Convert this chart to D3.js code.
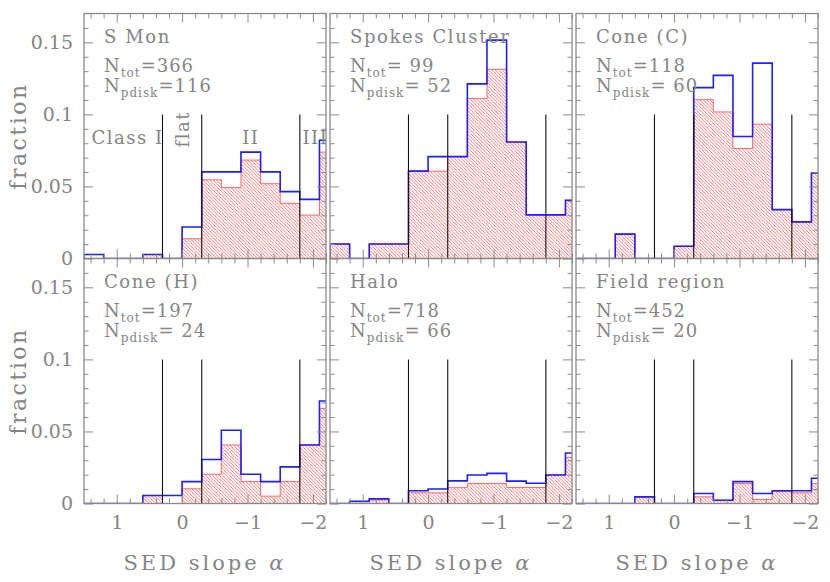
<!DOCTYPE html>
<html>
<head>
<meta charset="utf-8">
<script src="https://cdn.jsdelivr.net/npm/d3@7"></script>
<style>
  body { margin: 0; background: #fff; }
  svg { display: block; }
  text { font-family: "DejaVu Serif", serif; fill: #858585; }
</style>
</head>
<body>
<div id="chart"></div>
<script>
// data
var regions = ["S Mon", "Spokes Cluster", "Cone (C)", "Cone (H)", "Halo", "Field region"];
var nTot = ["366", " 99", "118", "197", "718", "452"];
var nPdisk = ["116", " 52", " 60", " 24", " 66", " 20"];
var binEdges = [1.5, 1.2, 0.9, 0.6, 0.3, 0, -0.3, -0.6, -0.9, -1.2, -1.5, -1.8, -2.1, -2.4];
var classBounds = [0.3, -0.3, -1.8];

// all sources (blue outline)
var totalFrac = [
  [0.0028, 0, 0, 0.0028, 0, 0.0219, 0.0601, 0.0601, 0.0738, 0.0601, 0.0464, 0.0410, 0.0820],
  [0.0101, 0, 0.0101, 0.0101, 0.0606, 0.0707, 0.0707, 0.1212, 0.1515, 0.0808, 0.0303, 0.0303, 0.0404],
  [0, 0, 0.0169, 0, 0, 0.0085, 0.1186, 0.1271, 0.0847, 0.1356, 0.0339, 0.0254, 0.0593],
  [0, 0, 0, 0.0055, 0.0055, 0.0152, 0.0305, 0.0508, 0.0203, 0.0152, 0.0254, 0.0406, 0.0711],
  [0, 0.0016, 0.0032, 0, 0.0088, 0.0101, 0.0157, 0.0198, 0.0209, 0.0155, 0.0141, 0.0198, 0.0350],
  [0, 0, 0, 0.0046, 0, 0, 0.0069, 0.0023, 0.0152, 0.0069, 0.0088, 0.0088, 0.0175]
];
// hatched red histogram
var hatchFrac = [
  [0, 0, 0, 0.0028, 0, 0.0137, 0.0546, 0.0492, 0.0683, 0.0519, 0.0383, 0.0301, 0.0738],
  [0.0101, 0, 0.0101, 0.0101, 0.0606, 0.0606, 0.0707, 0.1111, 0.1313, 0.0808, 0.0303, 0.0303, 0.0404],
  [0, 0, 0.0169, 0, 0, 0.0085, 0.1102, 0.1017, 0.0763, 0.0932, 0.0339, 0.0254, 0.0593],
  [0, 0, 0, 0.0055, 0, 0.0102, 0.0203, 0.0406, 0.0152, 0.0051, 0.0152, 0.0406, 0.0660],
  [0, 0.0012, 0.0025, 0, 0.0074, 0.0074, 0.0110, 0.0139, 0.0139, 0.0111, 0.0111, 0.0198, 0.0320],
  [0, 0, 0, 0.0046, 0, 0, 0.0046, 0.0023, 0.0138, 0.0028, 0.0083, 0.0074, 0.0138]
];
var xMajor = [1, 0, -1, -2];
var yMajor = [0, 0.05, 0.1, 0.15];

var width = 830, height = 582,
    pw = 242, ph = 245,
    colX = [84, 330, 576],
    rowY = [13.5, 258.5];

var x = d3.scaleLinear().domain([1.5, -2.2]).range([0, pw]);
var y = d3.scaleLinear().domain([0, 0.17]).range([ph, 0]);

var xMinor = d3.range(14, -23, -2).map(function(d){ return d / 10; }).filter(function(d){ return xMajor.indexOf(d) < 0; });
var yMinor = d3.range(1, 17).map(function(d){ return d / 100; }).filter(function(d){ return d % 0.05 > 0.001 && d % 0.05 < 0.049; });

var svg = d3.select("#chart").append("svg")
  .attr("width", width)
  .attr("height", height);

var defs = svg.append("defs");
defs.append("pattern")
  .attr("id", "hatch")
  .attr("patternUnits", "userSpaceOnUse")
  .attr("width", 3.4).attr("height", 3.4)
  .append("path")
  .attr("d", "M-1,-1L4.4,4.4M-1,2.4L1,4.4M2.4,-1L4.4,1")
  .attr("stroke", "#ff3b3b")
  .attr("stroke-width", 0.7);

// step outline for a histogram, truncated by the clip
function stepPath(vals) {
  var p = d3.path();
  p.moveTo(x(binEdges[0]), y(0));
  vals.forEach(function(v, i){
    p.lineTo(x(binEdges[i]), y(v));
    p.lineTo(x(binEdges[i + 1]), y(v));
  });
  p.lineTo(x(binEdges[binEdges.length - 1]), y(0));
  return p.toString();
}

regions.forEach(function(name, k){
  var col = k % 3, row = Math.floor(k / 3);
  var g = svg.append("g").attr("transform", "translate(" + colX[col] + "," + rowY[row] + ")");

  defs.append("clipPath").attr("id", "clip" + k)
    .append("rect").attr("width", pw).attr("height", ph);

  var plot = g.append("g").attr("clip-path", "url(#clip" + k + ")");

  // hatched histogram
  plot.append("path")
    .attr("d", stepPath(hatchFrac[k]))
    .attr("fill", "url(#hatch)")
    .attr("stroke", "#ff6a6a")
    .attr("stroke-width", 1);

  // total histogram
  plot.append("path")
    .attr("d", stepPath(totalFrac[k]))
    .attr("fill", "none")
    .attr("stroke", "#1e1eff")
    .attr("stroke-width", 1.6);

  // class boundaries
  plot.selectAll("line.cls").data(classBounds).enter().append("line")
    .attr("class", "cls")
    .attr("x1", function(d){ return x(d); })
    .attr("x2", function(d){ return x(d); })
    .attr("y1", y(0)).attr("y2", y(0.1))
    .attr("stroke", "#111").attr("stroke-width", 1.1);

  if (k === 0) {
    plot.append("text").attr("x", 7.5).attr("y", y(0.1) + 29.5)
      .style("font-size", "18px").style("letter-spacing", "1.5px").text("Class I");
    plot.append("text")
      .attr("transform", "translate(" + (x(0) + 7) + "," + (y(0.1) + 33) + ") rotate(-90)")
      .style("font-size", "18px").style("letter-spacing", "1.5px").text("flat");
    plot.append("text").attr("x", x(-1.05)).attr("y", y(0.1) + 29.5).attr("text-anchor", "middle")
      .style("font-size", "18px").style("letter-spacing", "1.5px").text("II");
    plot.append("text").attr("x", x(-1.84)).attr("y", y(0.1) + 29.5)
      .style("font-size", "18px").style("letter-spacing", "1.5px").text("III");
  }

  // axes: ticks on all four sides, pointing in
  function tidy(a){ a.select(".domain").remove(); a.selectAll("line").attr("stroke", "#8a8a8a"); }

  var showX = row === 1, showY = col === 0;
  g.append("g").attr("transform", "translate(0," + ph + ")")
    .call(d3.axisBottom(x).tickValues(xMinor).tickSize(-5).tickFormat(""))
    .call(tidy);
  g.append("g").attr("transform", "translate(0," + ph + ")")
    .call(d3.axisBottom(x).tickValues(xMajor).tickSize(-9).tickPadding(12)
      .tickFormat(showX ? function(d){ return d < 0 ? "\u2212" + (-d) : d; } : ""))
    .call(tidy);
  g.append("g")
    .call(d3.axisTop(x).tickValues(xMinor).tickSize(-5).tickFormat(""))
    .call(tidy);
  g.append("g")
    .call(d3.axisTop(x).tickValues(xMajor).tickSize(-9).tickFormat(""))
    .call(tidy);
  g.append("g")
    .call(d3.axisLeft(y).tickValues(yMinor).tickSize(-4.5).tickFormat(""))
    .call(tidy);
  g.append("g")
    .call(d3.axisLeft(y).tickValues(yMajor).tickSize(-9).tickPadding(11)
      .tickFormat(showY ? function(d){ return d === 0 ? "0" : String(d); } : ""))
    .call(tidy);
  g.append("g").attr("transform", "translate(" + pw + ",0)")
    .call(d3.axisRight(y).tickValues(yMinor).tickSize(-4.5).tickFormat(""))
    .call(tidy);
  g.append("g").attr("transform", "translate(" + pw + ",0)")
    .call(d3.axisRight(y).tickValues(yMajor).tickSize(-9).tickFormat(""))
    .call(tidy);

  g.selectAll(".tick text")
    .attr("fill", "#858585")
    .style("font-family", "DejaVu Serif, serif")
    .style("font-size", "19px");

  // frame
  g.append("rect").attr("width", pw).attr("height", ph)
    .attr("fill", "none").attr("stroke", "#8a8a8a").attr("stroke-width", 1.3);

  // labels
  var lab = g.append("g").attr("transform", "translate(20,0)");
  lab.append("text").attr("y", 29).style("font-size", "18px").style("letter-spacing", "1.6px").text(name);
  var t1 = lab.append("text").attr("y", 58).style("font-size", "18px").style("letter-spacing", "1px");
  t1.append("tspan").text("N");
  t1.append("tspan").attr("dy", 5).style("font-size", "12px").text("tot");
  t1.append("tspan").attr("dy", -5).style("white-space", "pre").text("=" + nTot[k]);
  var t2 = lab.append("text").attr("y", 78).style("font-size", "18px").style("letter-spacing", "1px");
  t2.append("tspan").text("N");
  t2.append("tspan").attr("dy", 5).style("font-size", "12px").text("pdisk");
  t2.append("tspan").attr("dy", -5).style("white-space", "pre").text("=" + nPdisk[k]);
});

// axis titles
rowY.forEach(function(r){
  svg.append("text")
    .attr("transform", "translate(26," + (r + ph / 2) + ") rotate(-90)")
    .attr("text-anchor", "middle")
    .style("font-size", "22px").style("letter-spacing", "2.5px")
    .text("fraction");
});
colX.forEach(function(c){
  var t = svg.append("text")
    .attr("x", c + pw / 2).attr("y", 570)
    .attr("text-anchor", "middle")
    .style("font-size", "21px").style("letter-spacing", "3px");
  t.append("tspan").text("SED slope ");
  t.append("tspan").style("font-style", "italic").text("\u03b1");
});
</script>
</body>
</html>
